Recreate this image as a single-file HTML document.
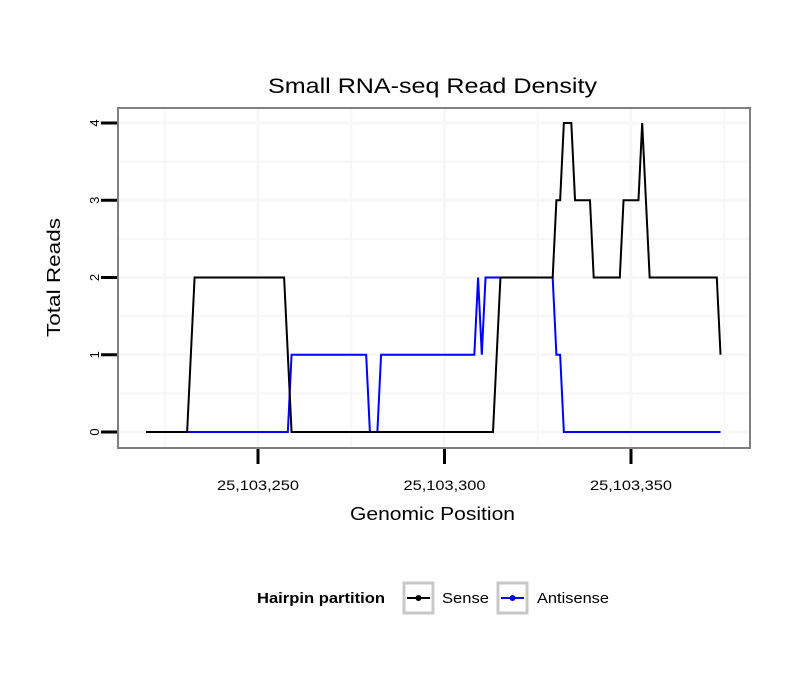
<!DOCTYPE html>
<html><head><meta charset="utf-8"><style>
body{margin:0;background:#fff;}
svg text{font-family:"Liberation Sans",sans-serif;}
</style></head><body>
<svg id="chart" width="810" height="690" viewBox="0 0 810 690">
<text x="268" y="93" font-size="21" textLength="329" lengthAdjust="spacingAndGlyphs">Small RNA-seq Read Density</text>
<g id="grid"></g>
<g id="series"></g>
<rect x="118" y="108" width="632" height="340" fill="none" stroke="#808080" stroke-width="2"/>
<g id="axes"></g>
<text x="350" y="520" font-size="18" textLength="165" lengthAdjust="spacingAndGlyphs">Genomic Position</text>
<text transform="translate(60,337) rotate(-90)" font-size="18" textLength="119" lengthAdjust="spacingAndGlyphs">Total Reads</text>
<g>
<text x="257" y="603" font-size="15" font-weight="bold" textLength="128" lengthAdjust="spacingAndGlyphs">Hairpin partition</text>
<g>
<rect x="404" y="583" width="29" height="30" fill="#fff" stroke="#c8c8c8" stroke-width="3"/>
<line x1="407" y1="598" x2="430" y2="598" stroke="#000" stroke-width="2"/>
<circle cx="418.5" cy="598" r="3" fill="#000"/>
<text x="442" y="603" font-size="15" textLength="47" lengthAdjust="spacingAndGlyphs">Sense</text>
</g>
<g>
<rect x="498" y="583" width="29" height="30" fill="#fff" stroke="#c8c8c8" stroke-width="3"/>
<line x1="501" y1="598" x2="524" y2="598" stroke="#00f" stroke-width="2"/>
<circle cx="512.5" cy="598" r="3" fill="#00f"/>
<text x="537" y="603" font-size="15" textLength="72" lengthAdjust="spacingAndGlyphs">Antisense</text>
</g>
</g>
</svg>
<script>
const senseX=[220,231,233,257,259,313,315,329,330,331,332,334,335,339,340,347,348,352,353,355,373,374];
const senseY=[0,0,2,2,0,0,2,2,3,3,4,4,3,3,2,2,3,3,4,2,2,1];
const antiX=[220,258,259,279,280,282,283,308,309,310,311,329,330,331,332,374];
const antiY=[0,0,1,1,0,0,1,1,2,1,2,2,1,1,0,0];
const xTicks=[25103250,25103300,25103350];
const xTickLabels=["25,103,250","25,103,300","25,103,350"];
const yTicks=[0,1,2,3,4];
const base=25103000;
const NS="http://www.w3.org/2000/svg";
function sx(p){return 258+(p-250)*3.73;}
function sxAbs(v){return sx(v-base);}
function sy(v){return 432-v*77.25;}
function mk(tag,attrs,parent){const e=document.createElementNS(NS,tag);for(const k in attrs)e.setAttribute(k,attrs[k]);parent.appendChild(e);return e;}
const grid=document.getElementById('grid'),axes=document.getElementById('axes'),series=document.getElementById('series');
for(let v=-0.5;v<=4.5;v+=0.5){const y=sy(v);if(y<109||y>447)continue;
const l=mk('line',{x1:119,x2:749,y1:y,y2:y,stroke:'#f7f7f7','stroke-width':v%1===0?3:2},grid);

}
for(let p=225;p<=375;p+=25){const x=sx(p);if(x<119||x>749)continue;
const l=mk('line',{x1:x,x2:x,y1:109,y2:447,stroke:'#f7f7f7','stroke-width':p%50===0?3:2},grid);

}
yTicks.forEach(v=>{const y=sy(v);
const t=mk('line',{x1:101,x2:117,y1:y,y2:y,stroke:'#000','stroke-width':3},axes);


const tx=mk('text',{transform:`translate(99,${y}) rotate(-90)`,'font-size':13,'text-anchor':'middle'},axes);
tx.textContent=v;

});
xTicks.forEach((v,i)=>{const x=sxAbs(v);
const t=mk('line',{x1:x,x2:x,y1:449,y2:464,stroke:'#000','stroke-width':3},axes);


const tx=mk('text',{x:x-41,y:490,'font-size':14,textLength:82,lengthAdjust:'spacingAndGlyphs'},axes);
tx.textContent=xTickLabels[i];

});
function line(xs,ys,color,name){
const d=xs.map((x,i)=>(i?'L':'M')+sx(x)+','+sy(ys[i])).join(' ');
const p=mk('path',{d:d,fill:'none',stroke:color,'stroke-width':2,'stroke-linejoin':'miter'},series);

}
line(antiX,antiY,'#0000ff','antisense-line');
line(senseX,senseY,'#000000','sense-line');
</script>
</body></html>
